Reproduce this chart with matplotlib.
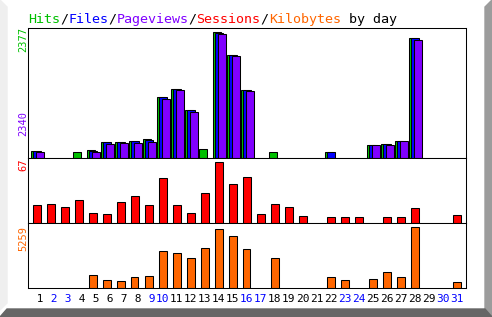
from matplotlib import pyplot as plt
from matplotlib.patches import Polygon
import numpy as np

# daily usage stats
days = list(range(1, 32))
hits = [138, 0, 0, 113, 151, 308, 308, 327, 365, 1157, 1308, 912, 176, 2377, 1949, 1289,
        0, 113, 0, 0, 0, 113, 0, 0, 251, 270, 327, 2270, 0, 0, 0]
files = [128, 0, 0, 0, 135, 298, 300, 318, 345, 1148, 1300, 900, 0, 2362, 1938, 1276,
         0, 0, 0, 0, 0, 110, 0, 0, 250, 262, 325, 2258, 0, 0, 0]
pages = [113, 0, 0, 0, 113, 270, 289, 289, 308, 1119, 1289, 874, 0, 2340, 1925, 1258,
         0, 0, 0, 0, 0, 0, 0, 0, 245, 245, 320, 2233, 0, 0, 0]
sessions = [20, 21, 18, 25, 11, 10, 23, 30, 20, 49, 20, 11, 33, 67, 43, 50,
            10, 21, 18, 8, 0, 7, 7, 7, 0, 7, 7, 16, 0, 0, 9]
kbytes = [0, 0, 0, 0, 1121, 690, 603, 948, 1034, 3190, 3017, 2586, 3448, 5086, 4483, 3362,
          0, 2586, 0, 0, 0, 948, 690, 0, 776, 1379, 948, 5259, 0, 0, 517]
weekend = [2, 3, 9, 10, 16, 17, 23, 24, 30, 31]

W, H = 492, 317
GREEN, BLUE, PURPLE, RED, ORANGE = '#00c000', '#0000ff', '#8000ff', '#ff0000', '#ff6600'
MONO = 'DejaVu Sans Mono'
LW = 0.75


def frac(x, y):
    return x / W, 1 - y / H


def ax_at(x0, y0, x1, y1):
    l, t = frac(x0, y0)
    r, b = frac(x1, y1)
    ax = fig.add_axes([l, b, r - l, t - b])
    ax.set_xticks([])
    ax.set_yticks([])
    for s in ax.spines.values():
        s.set_linewidth(LW)
    # day n centred at 36.5 + 14*(n-1) px
    ax.set_xlim(1 - (36.5 - x0) / 14, 1 + (x1 - 36.5) / 14)
    return ax


def bars(ax, vals, off, color, width=8 / 14):
    d = np.array(days, dtype=float)
    v = np.array(vals, dtype=float)
    m = v > 0
    ax.bar(d[m] + off / 14, v[m], width=width, color=color,
           edgecolor='black', linewidth=LW)


fig = plt.figure(figsize=(W / 100, H / 100), dpi=100)
fig.patch.set_facecolor('white')

# bevelled border
fig.patches.append(Polygon([frac(0, 0), frac(7, 7), frac(7, 303), frac(0, 310)],
                           closed=True, transform=fig.transFigure, color='#efefef'))
fig.patches.append(Polygon([frac(485, 7), frac(492, 0), frac(492, 317), frac(485, 310)],
                           closed=True, transform=fig.transFigure, color='#9c9c9c'))
fig.patches.append(Polygon([frac(0, 317), frac(7, 309), frac(485, 309), frac(492, 317)],
                           closed=True, transform=fig.transFigure, color='#666666'))

ax1 = ax_at(28, 28, 466, 158)
bars(ax1, hits, -1.8, GREEN)
bars(ax1, files, 0.7, BLUE)
bars(ax1, pages, 3.2, PURPLE)
ax1.set_ylim(0, max(hits) * 130 / 126)

ax2 = ax_at(28, 158, 466, 223)
bars(ax2, sessions, 0, RED)
ax2.set_ylim(0, max(sessions) * 65 / 61)

ax3 = ax_at(28, 223, 466, 288)
bars(ax3, kbytes, 0, ORANGE)
ax3.set_ylim(0, max(kbytes) * 65 / 61)

# title, coloured piece by piece
parts = [('Hits', GREEN), ('/', 'black'), ('Files', BLUE), ('/', 'black'),
         ('Pageviews', PURPLE), ('/', 'black'), ('Sessions', RED), ('/', 'black'),
         ('Kilobytes', ORANGE), (' by day', 'black')]
fs = 9.6
cw = 0.602 * fs * 100 / 72
x = 28
for txt, c in parts:
    fx, fy = frac(x, 23)
    fig.text(fx, fy, txt, color=c, fontsize=fs, family=MONO, ha='left', va='baseline')
    x += cw * len(txt)

# y labels
for lbl, c, yc in [(str(max(hits)), GREEN, 40), (str(max(pages)), PURPLE, 124),
                   (str(max(sessions)), RED, 165), (str(max(kbytes)), ORANGE, 238.5)]:
    fx, fy = frac(23, yc)
    fig.text(fx, fy, lbl, color=c, fontsize=7.5, family=MONO, rotation=90,
             ha='center', va='center')

# day labels
for d in days:
    fx, fy = frac(36.5 + 14 * (d - 1), 299)
    fig.text(fx, fy, '%2d' % d, color=BLUE if d in weekend else 'black',
             fontsize=8, family=MONO, ha='center', va='center')

plt.savefig('out.png', dpi=100)
